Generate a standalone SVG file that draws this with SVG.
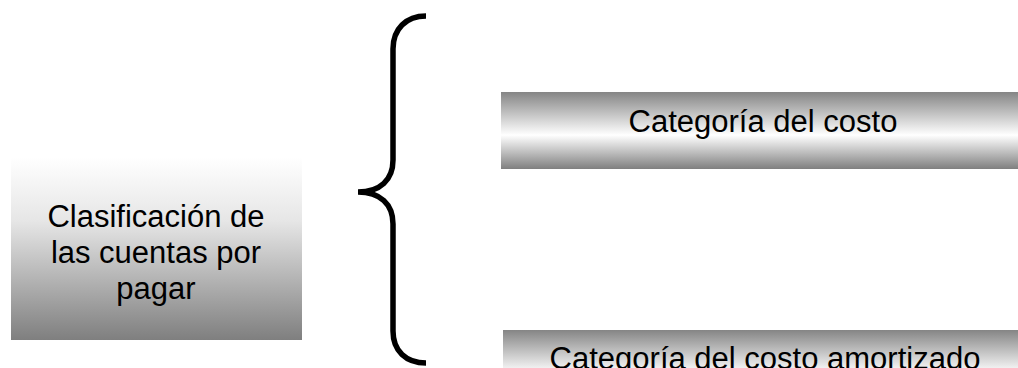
<svg xmlns="http://www.w3.org/2000/svg" width="1018" height="368" viewBox="0 0 1018 368">
  <defs>
    <linearGradient id="gLeft" x1="0" y1="0" x2="0" y2="1">
      <stop offset="0" stop-color="#ffffff"/>
      <stop offset="0.35" stop-color="#e6e6e6"/>
      <stop offset="1" stop-color="#7f7f7f"/>
    </linearGradient>
    <linearGradient id="gBar" x1="0" y1="0" x2="0" y2="1">
      <stop offset="0" stop-color="#858585"/>
      <stop offset="0.56" stop-color="#ffffff"/>
      <stop offset="1" stop-color="#7f7f7f"/>
    </linearGradient>
    <style>
      .lbl { font-family: "Liberation Sans", Arial, sans-serif; font-size: 31px; fill: #000; text-anchor: middle; }
      .brace { fill: none; stroke: #000; stroke-width: 5.5; stroke-linecap: butt; }
    </style>
  </defs>
  <rect width="1018" height="368" fill="#ffffff"/>

  <g id="node-clasificacion">
    <rect x="11" y="157" width="291" height="183" fill="url(#gLeft)"/>
    <text class="lbl" x="156" y="227">Clasificación de</text>
    <text class="lbl" x="156" y="263">las cuentas por</text>
    <text class="lbl" x="156" y="299">pagar</text>
  </g>

  <g id="connectors">
    <path class="brace" d="M426,16 C406,16 393,29 393,49 L393,160 C393,180 380,192 358,192 C380,192 393,204 393,224 L393,331 C393,351 406,363 426,363"/>
  </g>

  <g id="node-costo">
    <rect x="501" y="92" width="530" height="77" fill="url(#gBar)"/>
    <text class="lbl" x="763" y="132">Categoría del costo</text>
  </g>

  <g id="node-costo-amortizado">
    <rect x="503" y="330" width="530" height="77" fill="url(#gBar)"/>
    <text class="lbl" x="765" y="369">Categoría del costo amortizado</text>
  </g>
</svg>
